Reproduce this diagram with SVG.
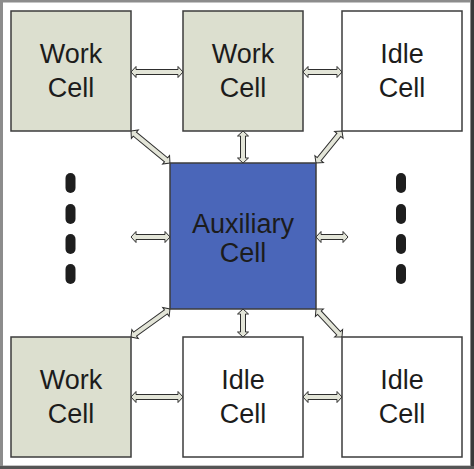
<svg xmlns="http://www.w3.org/2000/svg" width="474" height="469" viewBox="0 0 474 469">
<style>
.box{stroke:#3c3c3c;stroke-width:1.5}
.work{fill:#dcdfcf}
.idle{fill:#ffffff}
.aux{fill:#4a66b9}
.lbl{font-family:"Liberation Sans",Arial,sans-serif;font-size:27px;fill:#1c1c1c;text-anchor:middle}
.arr{fill:#e3e5d8;stroke:#2e2e2e;stroke-width:1;stroke-linejoin:miter}
.dot{fill:#1e1e1e}
</style>
<rect x="0" y="0" width="474" height="469" fill="#ffffff"/>
<rect x="1.5" y="1" width="470" height="466" fill="none" stroke="#8c8c8c" stroke-width="3"/>
<line x1="472.5" y1="0" x2="472.5" y2="469" stroke="#3a3a3a" stroke-width="3"/>
<line x1="0" y1="467.5" x2="474" y2="467.5" stroke="#555555" stroke-width="3"/>

<g id="connectors">
<polygon class="arr" transform="translate(131,72)" points="0,0 5,-5.5 5,-2.5 47,-2.5 47,-5.5 52,0 47,5.5 47,2.5 5,2.5 5,5.5"/>
<polygon class="arr" transform="translate(303,72)" points="0,0 5,-5.5 5,-2.5 34,-2.5 34,-5.5 39,0 34,5.5 34,2.5 5,2.5 5,5.5"/>
<polygon class="arr" transform="translate(131,397)" points="0,0 5,-5.5 5,-2.5 47,-2.5 47,-5.5 52,0 47,5.5 47,2.5 5,2.5 5,5.5"/>
<polygon class="arr" transform="translate(303,397)" points="0,0 5,-5.5 5,-2.5 34,-2.5 34,-5.5 39,0 34,5.5 34,2.5 5,2.5 5,5.5"/>
<polygon class="arr" transform="translate(131,237)" points="0,0 5,-5.5 5,-2.5 34,-2.5 34,-5.5 39,0 34,5.5 34,2.5 5,2.5 5,5.5"/>
<polygon class="arr" transform="translate(316,237)" points="0,0 5,-5.5 5,-2.5 27,-2.5 27,-5.5 32,0 27,5.5 27,2.5 5,2.5 5,5.5"/>
<polygon class="arr" transform="translate(243,131) rotate(90)" points="0,0 5,-5.5 5,-2.5 27,-2.5 27,-5.5 32,0 27,5.5 27,2.5 5,2.5 5,5.5"/>
<polygon class="arr" transform="translate(243,309) rotate(90)" points="0,0 5,-5.5 5,-2.5 23,-2.5 23,-5.5 28,0 23,5.5 23,2.5 5,2.5 5,5.5"/>
<polygon class="arr" transform="translate(131,131) rotate(39.4)" points="0,0 5,-5.5 5,-2.5 45.4,-2.5 45.4,-5.5 50.4,0 45.4,5.5 45.4,2.5 5,2.5 5,5.5"/>
<polygon class="arr" transform="translate(316,163) rotate(-50.9)" points="0,0 5,-5.5 5,-2.5 36.2,-2.5 36.2,-5.5 41.2,0 36.2,5.5 36.2,2.5 5,2.5 5,5.5"/>
<polygon class="arr" transform="translate(131,337) rotate(-35.7)" points="0,0 5,-5.5 5,-2.5 43,-2.5 43,-5.5 48,0 43,5.5 43,2.5 5,2.5 5,5.5"/>
<polygon class="arr" transform="translate(316,309) rotate(47.1)" points="0,0 5,-5.5 5,-2.5 33.2,-2.5 33.2,-5.5 38.2,0 33.2,5.5 33.2,2.5 5,2.5 5,5.5"/>
</g>

<g id="cell-top-left">
<rect class="box work" x="11" y="11" width="120" height="120"/>
<text class="lbl" x="71" y="63">Work</text>
<text class="lbl" x="71" y="97">Cell</text>
</g>
<g id="cell-top-middle">
<rect class="box work" x="183" y="11" width="120" height="120"/>
<text class="lbl" x="243" y="63">Work</text>
<text class="lbl" x="243" y="97">Cell</text>
</g>
<g id="cell-top-right">
<rect class="box idle" x="342" y="11" width="120" height="120"/>
<text class="lbl" x="402" y="63">Idle</text>
<text class="lbl" x="402" y="97">Cell</text>
</g>
<g id="cell-auxiliary">
<rect class="box aux" x="170" y="163" width="146" height="146"/>
<text class="lbl" x="243" y="233">Auxiliary</text>
<text class="lbl" x="243" y="262">Cell</text>
</g>
<g id="cell-bottom-left">
<rect class="box work" x="11" y="337" width="120" height="120"/>
<text class="lbl" x="71" y="389">Work</text>
<text class="lbl" x="71" y="423">Cell</text>
</g>
<g id="cell-bottom-middle">
<rect class="box idle" x="183" y="337" width="120" height="120"/>
<text class="lbl" x="243" y="389">Idle</text>
<text class="lbl" x="243" y="423">Cell</text>
</g>
<g id="cell-bottom-right">
<rect class="box idle" x="342" y="337" width="120" height="120"/>
<text class="lbl" x="402" y="389">Idle</text>
<text class="lbl" x="402" y="423">Cell</text>
</g>

<g id="ellipsis-left">
<rect class="dot" x="65.5" y="173" width="10" height="20" rx="5"/>
<rect class="dot" x="65.5" y="204" width="10" height="20" rx="5"/>
<rect class="dot" x="65.5" y="234" width="10" height="20" rx="5"/>
<rect class="dot" x="65.5" y="264" width="10" height="20" rx="5"/>
</g>
<g id="ellipsis-right">
<rect class="dot" x="396" y="173" width="10" height="20" rx="5"/>
<rect class="dot" x="396" y="204" width="10" height="20" rx="5"/>
<rect class="dot" x="396" y="234" width="10" height="20" rx="5"/>
<rect class="dot" x="396" y="264" width="10" height="20" rx="5"/>
</g>
</svg>
